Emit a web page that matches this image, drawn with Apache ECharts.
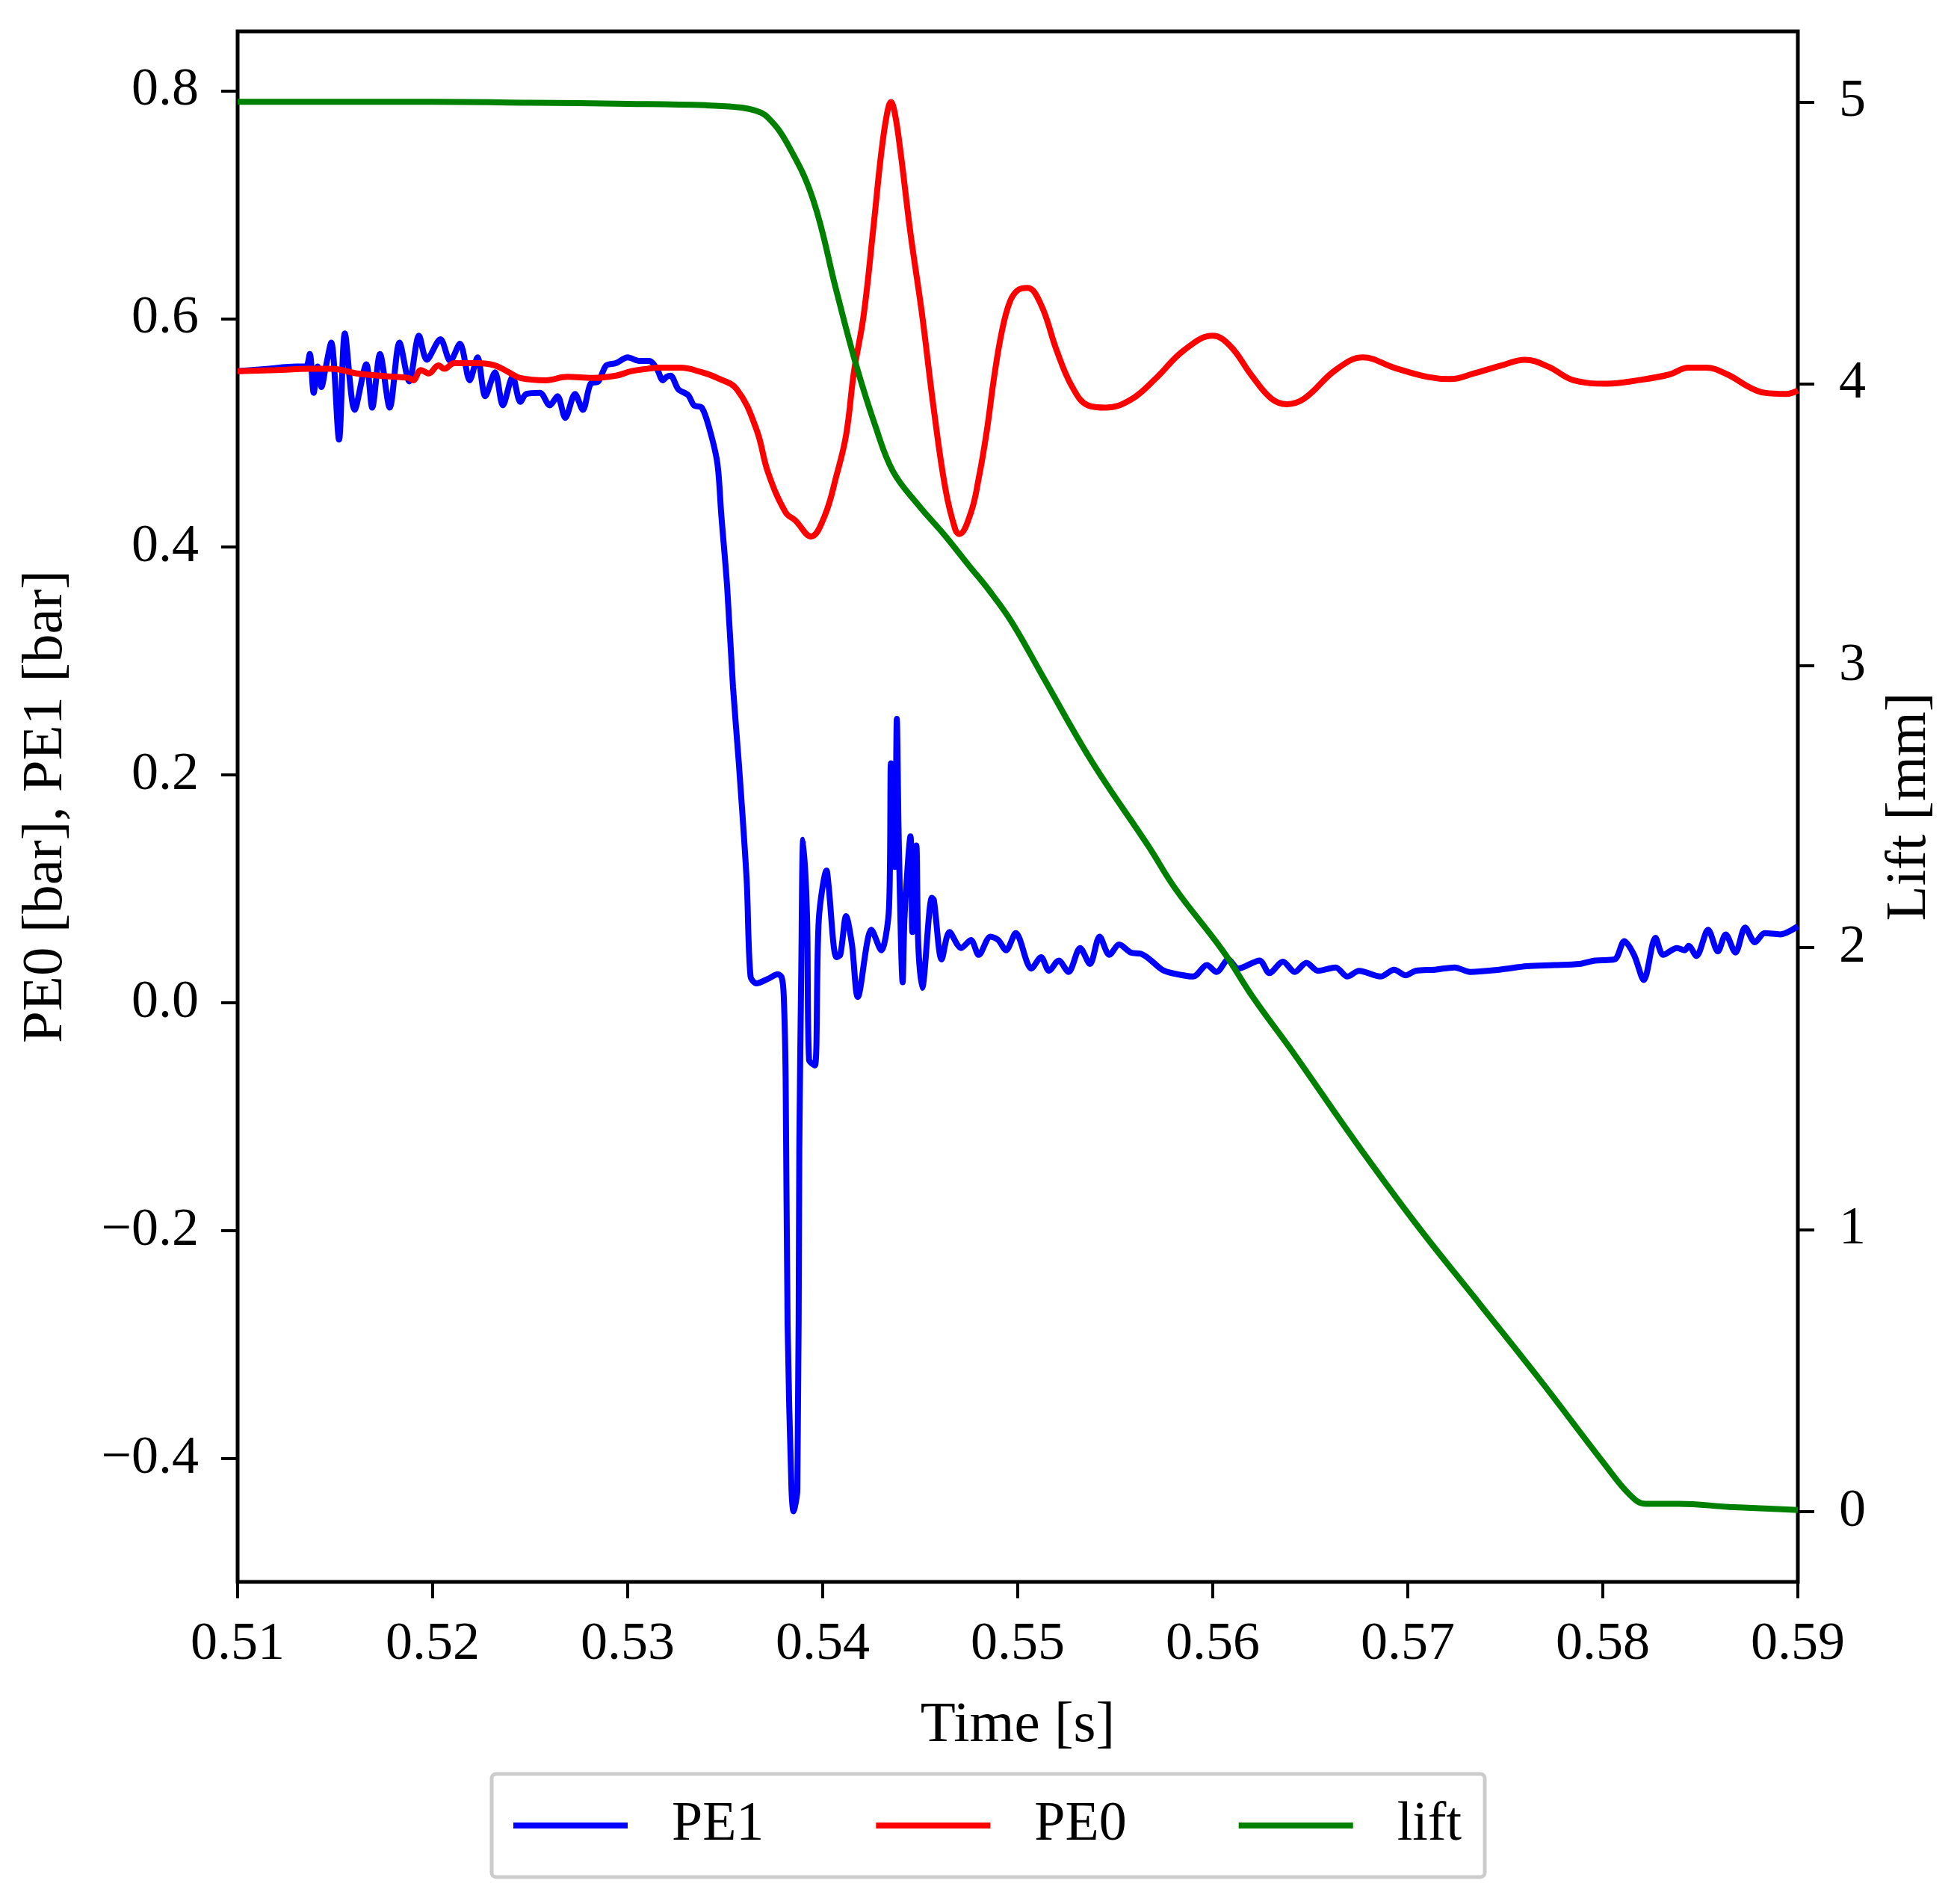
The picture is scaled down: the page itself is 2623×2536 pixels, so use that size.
<!DOCTYPE html>
<html>
<head>
<meta charset="UTF-8">
<title>PE0 / PE1 / lift</title>
<style>
  html, body { margin: 0; padding: 0; background: #fff; }
  #main { width: 2623px; height: 2536px; }
</style>
</head>
<body>
<div id="main"></div>
<script src="https://cdn.jsdelivr.net/npm/echarts@6/dist/echarts.min.js"></script>
<script>
// PE1 pressure [bar]
var pe1Time = [0.5100,0.5115,0.5130,0.5135,0.5137,0.5139,0.5141,0.5143,0.5145,0.5148,0.5152,0.5155,0.5160,0.5166,0.5169,0.5173,0.5178,0.5183,0.5188,0.5193,0.5197,0.5204,0.5209,0.5214,0.5219,0.5223,0.5227,0.5232,0.5236,0.5241,0.5245,0.5248,0.5255,0.5260,0.5264,0.5268,0.5273,0.5277,0.5281,0.5285,0.5289,0.5294,0.5300,0.5306,0.5311,0.5315,0.5318,0.5320,0.5322,0.5326,0.5331,0.5334,0.5338,0.5342,0.5346,0.5348,0.5351,0.5354,0.5357,0.5361,0.5363,0.5366,0.5372,0.5377,0.5379,0.5380,0.5381,0.5382,0.5384,0.5385,0.5387,0.5388,0.5389,0.5390,0.5392,0.5393,0.5396,0.5398,0.5402,0.5403,0.5407,0.5409,0.5412,0.5415,0.5418,0.5425,0.5430,0.5434,0.5435,0.5437,0.5438,0.5439,0.5441,0.5442,0.5445,0.5446,0.5448,0.5449,0.5451,0.5456,0.5457,0.5461,0.5465,0.5471,0.5476,0.5480,0.5486,0.5490,0.5494,0.5499,0.5507,0.5512,0.5516,0.5521,0.5526,0.5532,0.5537,0.5542,0.5547,0.5552,0.5558,0.5563,0.5567,0.5574,0.5579,0.5590,0.5597,0.5602,0.5608,0.5613,0.5624,0.5629,0.5636,0.5642,0.5648,0.5654,0.5663,0.5669,0.5675,0.5686,0.5693,0.5699,0.5704,0.5714,0.5724,0.5732,0.5747,0.5761,0.5775,0.5788,0.5796,0.5806,0.5811,0.5816,0.5821,0.5827,0.5831,0.5838,0.5842,0.5844,0.5848,0.5854,0.5859,0.5863,0.5868,0.5873,0.5878,0.5883,0.5891,0.5900];
var pe1Val = [0.554,0.556,0.558,0.558,0.569,0.535,0.558,0.540,0.556,0.579,0.494,0.587,0.520,0.560,0.522,0.569,0.522,0.579,0.545,0.585,0.564,0.582,0.563,0.578,0.546,0.566,0.532,0.553,0.524,0.549,0.527,0.534,0.535,0.524,0.532,0.513,0.534,0.520,0.543,0.545,0.559,0.561,0.566,0.563,0.563,0.556,0.546,0.549,0.550,0.538,0.533,0.524,0.522,0.503,0.473,0.428,0.365,0.277,0.210,0.108,0.023,0.017,0.021,0.025,0.022,0.007,-0.066,-0.282,-0.427,-0.446,-0.427,-0.128,0.027,0.143,0.073,-0.050,-0.055,0.073,0.116,0.103,0.040,0.042,0.076,0.051,0.005,0.064,0.046,0.083,0.210,0.119,0.249,0.142,0.018,0.077,0.146,0.062,0.138,0.051,0.013,0.092,0.090,0.038,0.062,0.048,0.055,0.042,0.058,0.055,0.046,0.061,0.030,0.040,0.028,0.037,0.027,0.048,0.034,0.058,0.042,0.051,0.044,0.043,0.039,0.029,0.026,0.023,0.033,0.027,0.038,0.030,0.037,0.026,0.036,0.027,0.035,0.028,0.031,0.023,0.028,0.023,0.029,0.024,0.028,0.029,0.031,0.027,0.029,0.032,0.033,0.034,0.037,0.038,0.054,0.042,0.020,0.057,0.042,0.048,0.046,0.050,0.041,0.064,0.045,0.060,0.044,0.066,0.053,0.061,0.060,0.067];

// PE0 pressure [bar]
var pe0Time = [0.5100,0.5120,0.5137,0.5148,0.5161,0.5173,0.5181,0.5188,0.5190,0.5194,0.5198,0.5203,0.5206,0.5211,0.5223,0.5232,0.5239,0.5245,0.5258,0.5269,0.5282,0.5294,0.5302,0.5310,0.5316,0.5327,0.5338,0.5346,0.5356,0.5366,0.5372,0.5381,0.5386,0.5394,0.5401,0.5407,0.5412,0.5416,0.5421,0.5426,0.5430,0.5433,0.5435,0.5437,0.5440,0.5445,0.5451,0.5457,0.5463,0.5468,0.5470,0.5476,0.5480,0.5484,0.5488,0.5492,0.5496,0.5500,0.5505,0.5512,0.5520,0.5528,0.5536,0.5545,0.5558,0.5571,0.5585,0.5600,0.5609,0.5620,0.5630,0.5638,0.5647,0.5663,0.5677,0.5693,0.5710,0.5722,0.5734,0.5748,0.5760,0.5772,0.5785,0.5802,0.5818,0.5834,0.5844,0.5853,0.5864,0.5875,0.5883,0.5894,0.5900];
var pe0Val = [0.554,0.555,0.556,0.556,0.552,0.550,0.549,0.548,0.546,0.555,0.552,0.559,0.556,0.561,0.561,0.559,0.553,0.548,0.546,0.549,0.548,0.550,0.554,0.556,0.557,0.557,0.553,0.548,0.538,0.503,0.465,0.430,0.423,0.409,0.427,0.462,0.498,0.553,0.603,0.680,0.745,0.780,0.790,0.780,0.745,0.675,0.603,0.520,0.450,0.415,0.411,0.430,0.460,0.500,0.550,0.590,0.615,0.625,0.627,0.612,0.572,0.540,0.524,0.522,0.529,0.548,0.572,0.585,0.576,0.550,0.530,0.525,0.530,0.555,0.566,0.557,0.549,0.547,0.552,0.559,0.564,0.558,0.546,0.543,0.546,0.551,0.557,0.557,0.551,0.540,0.535,0.534,0.537];

// lift [mm]
var liftTime = [0.5100,0.5200,0.5250,0.5300,0.5340,0.5355,0.5365,0.5372,0.5382,0.5395,0.5407,0.5417,0.5427,0.5436,0.5449,0.5462,0.5475,0.5485,0.5497,0.5513,0.5538,0.5567,0.5581,0.5605,0.5621,0.5641,0.5673,0.5705,0.5737,0.5769,0.5801,0.5814,0.5822,0.5839,0.5865,0.5900];
var liftVal = [5.000,5.000,4.997,4.993,4.988,4.982,4.970,4.944,4.850,4.655,4.330,4.070,3.850,3.690,3.570,3.467,3.355,3.270,3.154,2.960,2.660,2.360,2.207,1.990,1.820,1.630,1.313,1.013,0.735,0.456,0.167,0.058,0.027,0.027,0.016,0.005];

var xTicks = [0.51, 0.52, 0.53, 0.54, 0.55, 0.56, 0.57, 0.58, 0.59];
var pTicks = [-0.4, -0.2, 0.0, 0.2, 0.4, 0.6, 0.8];
var liftTicks = [0, 1, 2, 3, 4, 5];

function zip(a, b) {
    var out = [];
    for (var i = 0; i < a.length; i++) out.push([a[i], b[i]]);
    return out;
}

var FONT = 'Liberation Serif';
var FS = 72;
var LW = 8;

function labelStyle(margin) {
    return { color: '#000', fontFamily: FONT, fontSize: FS, margin: margin };
}

var tickStyle = { show: true, length: 22, lineStyle: { color: '#000', width: 4 } };
var nameStyle = { color: '#000', fontFamily: FONT, fontSize: 77 };

var chart = echarts.init(document.getElementById('main'));

chart.setOption({
    animation: false,
    backgroundColor: '#fff',
    grid: {
        left: 318, right: 217, top: 42, bottom: 419,
        show: true, borderColor: '#000', borderWidth: 5, backgroundColor: 'transparent'
    },
    legend: {
        left: 658, top: 2374,
        orient: 'horizontal',
        icon: 'rect',
        itemWidth: 153, itemHeight: LW, itemGap: 150,
        padding: [32, 31, 32, 29],
        borderColor: '#cccccc', borderWidth: 5, borderRadius: 6,
        textStyle: { color: '#000', fontFamily: FONT, fontSize: 74, padding: [0, 0, 0, 54] },
        data: ['PE1', 'PE0', 'lift']
    },
    xAxis: {
        type: 'value', min: 0.51, max: 0.59,
        name: 'Time [s]', nameLocation: 'middle', nameGap: 154, nameTextStyle: nameStyle,
        axisLine: { show: false, onZero: false },
        axisTick: Object.assign({ customValues: xTicks }, tickStyle),
        axisLabel: Object.assign({
            customValues: xTicks,
            formatter: function (v) { return v.toFixed(2); }
        }, labelStyle(48)),
        splitLine: { show: false }
    },
    yAxis: [{
        type: 'value', min: -0.508, max: 0.852, position: 'left',
        name: 'PE0 [bar], PE1 [bar]', nameLocation: 'middle', nameGap: 218, nameTextStyle: nameStyle,
        axisLine: { show: false, onZero: false },
        axisTick: Object.assign({ customValues: pTicks }, tickStyle),
        axisLabel: Object.assign({
            customValues: pTicks,
            formatter: function (v) { return (v < -1e-9 ? '\u2212' : '') + Math.abs(v).toFixed(1); }
        }, labelStyle(52)),
        splitLine: { show: false }
    }, {
        type: 'value', min: -0.25, max: 5.25, position: 'right',
        name: 'Lift [mm]', nameLocation: 'middle', nameGap: 111, nameTextStyle: nameStyle,
        axisLine: { show: false, onZero: false },
        axisTick: Object.assign({ customValues: liftTicks }, tickStyle),
        axisLabel: Object.assign({
            customValues: liftTicks,
            formatter: function (v) { return String(Math.round(v)); }
        }, labelStyle(55)),
        splitLine: { show: false }
    }],
    series: [{
        name: 'PE1', type: 'line', yAxisIndex: 0, symbol: 'none', smooth: 0.3,
        lineStyle: { color: '#0000ff', width: LW }, itemStyle: { color: '#0000ff' },
        data: zip(pe1Time, pe1Val)
    }, {
        name: 'PE0', type: 'line', yAxisIndex: 0, symbol: 'none', smooth: 0.4,
        lineStyle: { color: '#ff0000', width: LW }, itemStyle: { color: '#ff0000' },
        data: zip(pe0Time, pe0Val)
    }, {
        name: 'lift', type: 'line', yAxisIndex: 1, symbol: 'none', smooth: 0.4,
        lineStyle: { color: '#008000', width: LW }, itemStyle: { color: '#008000' },
        data: zip(liftTime, liftVal)
    }]
});
</script>
</body>
</html>
